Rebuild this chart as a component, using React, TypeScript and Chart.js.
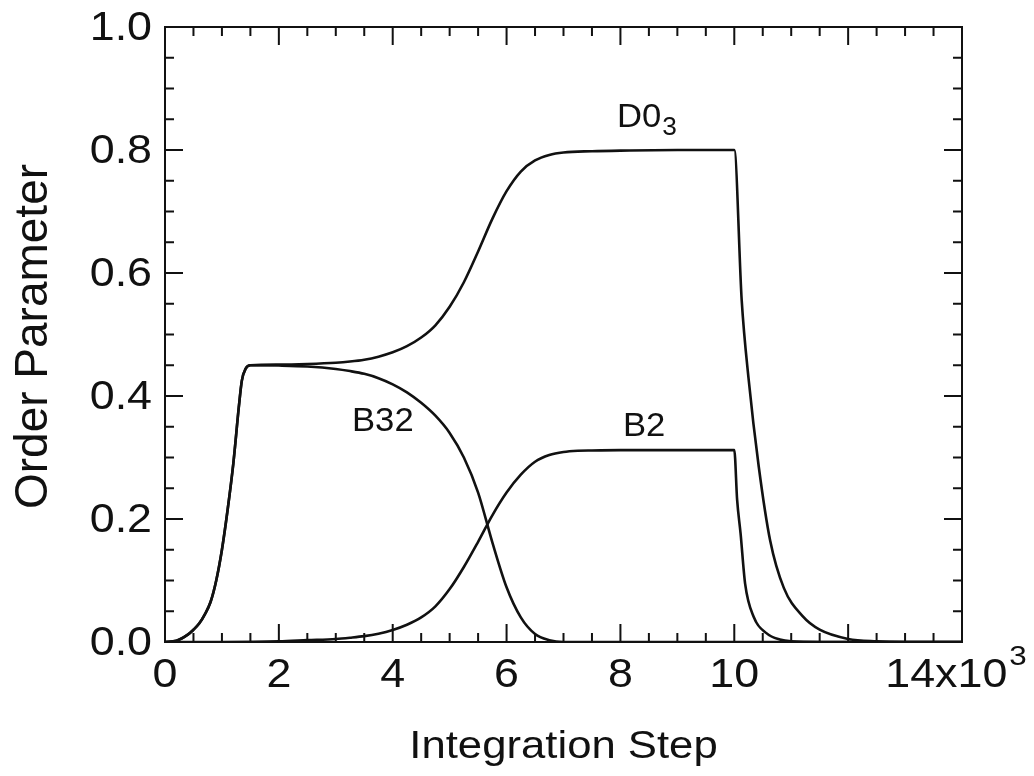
import React, { useEffect, useRef } from "react";
import { Chart, registerables } from "chart.js";

Chart.register(...registerables);

// Integration step (x10^3) and order parameter values for each ordered phase
const d03Steps = [0, 0.2, 0.4, 0.5, 0.6, 0.7, 0.8, 0.9, 1.0, 1.1, 1.2, 1.3, 1.35, 1.42, 1.5, 2.0, 2.5, 3.0, 3.25, 3.5, 3.75, 4.0, 4.25, 4.5, 4.75, 5.0, 5.25, 5.5, 5.75, 6.0, 6.25, 6.5, 6.75, 7.0, 7.5, 8.0, 9.0, 10.0, 10.13, 10.25, 10.43, 10.63, 10.87, 11.2, 11.5, 12.0, 12.5, 13.0, 14.0];
const d03Values = [0, 0.002, 0.012, 0.02, 0.03, 0.045, 0.065, 0.1, 0.15, 0.215, 0.29, 0.385, 0.425, 0.445, 0.45, 0.451, 0.452, 0.454, 0.456, 0.459, 0.464, 0.471, 0.481, 0.495, 0.515, 0.545, 0.585, 0.635, 0.688, 0.733, 0.765, 0.783, 0.792, 0.796, 0.798, 0.799, 0.8, 0.8, 0.556, 0.429, 0.285, 0.165, 0.088, 0.042, 0.02, 0.005, 0.001, 0, 0];

const b32Steps = [0, 0.2, 0.4, 0.5, 0.6, 0.7, 0.8, 0.9, 1.0, 1.1, 1.2, 1.3, 1.35, 1.42, 1.5, 2.0, 2.5, 3.0, 3.25, 3.5, 3.75, 4.0, 4.25, 4.5, 4.75, 5.0, 5.25, 5.5, 5.75, 6.0, 6.25, 6.5, 6.75, 7.0, 8.0, 14.0];
const b32Values = [0, 0.002, 0.012, 0.02, 0.03, 0.045, 0.065, 0.1, 0.15, 0.215, 0.29, 0.385, 0.425, 0.445, 0.45, 0.4495, 0.448, 0.444, 0.4405, 0.436, 0.429, 0.419, 0.406, 0.389, 0.368, 0.34, 0.3, 0.243, 0.162, 0.089, 0.04, 0.013, 0.003, 0, 0, 0];

const b2Steps = [0, 1.0, 2.0, 2.5, 3.0, 3.25, 3.5, 3.75, 4.0, 4.25, 4.5, 4.75, 5.0, 5.25, 5.5, 5.75, 6.0, 6.25, 6.5, 6.75, 7.0, 7.25, 7.5, 8.0, 9.0, 10.0, 10.05, 10.11, 10.19, 10.34, 10.57, 10.8, 11.0, 11.5, 14.0];
const b2Values = [0, 0, 0.001, 0.003, 0.005, 0.007, 0.0095, 0.0135, 0.0195, 0.028, 0.04, 0.058, 0.086, 0.122, 0.163, 0.206, 0.243, 0.272, 0.293, 0.304, 0.309, 0.311, 0.3115, 0.312, 0.312, 0.312, 0.231, 0.177, 0.095, 0.041, 0.014, 0.004, 0.001, 0, 0];

// Axis tick labels
const xTickValues = [0, 2, 4, 6, 8, 10, 14];
const xTickLabels = ["0", "2", "4", "6", "8", "10", "14x10"];
const yTickValues = [0, 0.2, 0.4, 0.6, 0.8, 1.0];
const yTickLabels = ["0.0", "0.2", "0.4", "0.6", "0.8", "1.0"];

const FONT = "'Liberation Sans', Arial, Helvetica, sans-serif";
const INK = "#111";

const toPoints = (xs: number[], ys: number[]) => xs.map((x, i) => ({ x, y: ys[i] }));

function drawStretched(
  ctx: CanvasRenderingContext2D,
  text: string,
  x: number,
  y: number,
  size: number,
  sx: number,
  align: "left" | "center" | "right"
) {
  ctx.font = `${size}px ${FONT}`;
  const w = ctx.measureText(text).width * sx;
  let left = x;
  if (align === "center") left = x - w / 2;
  if (align === "right") left = x - w;
  ctx.save();
  ctx.translate(left, y);
  ctx.scale(sx, 1);
  ctx.textAlign = "left";
  ctx.textBaseline = "alphabetic";
  ctx.fillText(text, 0, 0);
  ctx.restore();
  return w;
}

const framePlugin = {
  id: "frameAndLabels",
  afterDraw(chart: any) {
    const { ctx, chartArea } = chart;
    const xs = chart.scales.x;
    const ys = chart.scales.y;
    const { left, right, top, bottom } = chartArea;
    ctx.save();
    ctx.strokeStyle = INK;
    ctx.fillStyle = INK;

    // frame
    ctx.lineWidth = 2;
    ctx.strokeRect(left, top, right - left, bottom - top);

    // inward ticks on all four sides
    ctx.lineWidth = 2;
    ctx.beginPath();
    for (let i = 0; i <= 28; i++) {
      const v = i * 0.5;
      const px = xs.getPixelForValue(v);
      const len = i % 4 === 0 ? 18 : 9;
      ctx.moveTo(px, bottom);
      ctx.lineTo(px, bottom - len);
      ctx.moveTo(px, top);
      ctx.lineTo(px, top + len);
    }
    for (let i = 0; i <= 20; i++) {
      const v = i * 0.05;
      const py = ys.getPixelForValue(v);
      const len = i % 4 === 0 ? 18 : 9;
      ctx.moveTo(left, py);
      ctx.lineTo(left + len, py);
      ctx.moveTo(right, py);
      ctx.lineTo(right - len, py);
    }
    ctx.stroke();

    // y tick labels
    yTickValues.forEach((v, i) => {
      drawStretched(ctx, yTickLabels[i], left - 13, ys.getPixelForValue(v) + 13, 40, 1.12, "right");
    });

    // x tick labels
    xTickValues.forEach((v, i) => {
      const label = xTickLabels[i];
      const px = xs.getPixelForValue(v);
      if (label === "14x10") {
        ctx.font = `40px ${FONT}`;
        const wMain = ctx.measureText(label).width * 1.12;
        ctx.font = `28px ${FONT}`;
        const wSup = ctx.measureText("3").width * 1.12;
        const start = px - 6 - (wMain + 2 + wSup) / 2;
        drawStretched(ctx, label, start, bottom + 45, 40, 1.12, "left");
        drawStretched(ctx, "3", start + wMain + 2, bottom + 23, 28, 1.12, "left");
      } else {
        drawStretched(ctx, label, px, bottom + 45, 40, 1.12, "center");
      }
    });

    // axis titles
    drawStretched(ctx, "Integration Step", (left + right) / 2, bottom + 116, 39, 1.12, "center");
    ctx.save();
    ctx.translate(39, (top + bottom) / 2 + 2);
    ctx.rotate(-Math.PI / 2);
    ctx.font = `46px ${FONT}`;
    ctx.textAlign = "center";
    ctx.textBaseline = "alphabetic";
    ctx.fillText("Order Parameter", 0, 0);
    ctx.restore();

    // curve labels
    const dx = xs.getPixelForValue(7.94);
    const dy = ys.getPixelForValue(0.8374);
    const wD = drawStretched(ctx, "D0", dx, dy, 33, 1.05, "left");
    drawStretched(ctx, "3", dx + wD + 1, dy + 8, 25, 1.05, "left");
    drawStretched(ctx, "B32", xs.getPixelForValue(3.285), ys.getPixelForValue(0.343), 33, 1.05, "left");
    drawStretched(ctx, "B2", xs.getPixelForValue(8.045), ys.getPixelForValue(0.335), 33, 1.05, "left");

    ctx.restore();
  },
};

export default function App() {
  const canvasRef = useRef<HTMLCanvasElement | null>(null);

  useEffect(() => {
    const canvas = canvasRef.current;
    if (!canvas) return;
    const lineStyle = {
      borderColor: INK,
      borderWidth: 2.6,
      pointRadius: 0,
      showLine: true,
      fill: false,
      cubicInterpolationMode: "monotone" as const,
    };
    const chart = new Chart(canvas, {
      type: "scatter",
      data: {
        datasets: [
          { label: "D0_3", data: toPoints(d03Steps, d03Values), ...lineStyle },
          { label: "B32", data: toPoints(b32Steps, b32Values), ...lineStyle },
          { label: "B2", data: toPoints(b2Steps, b2Values), ...lineStyle },
        ],
      },
      options: {
        animation: false,
        responsive: false,
        devicePixelRatio: 1,
        layout: { padding: { left: 157, top: 19, right: 64, bottom: 126 } },
        plugins: { legend: { display: false }, tooltip: { enabled: false } },
        scales: {
          x: { type: "linear", min: 0, max: 14, display: false },
          y: { type: "linear", min: 0, max: 1, display: false },
        },
      },
      plugins: [framePlugin],
    });
    return () => chart.destroy();
  }, []);

  return (
    <canvas
      ref={canvasRef}
      width={1018}
      height={760}
      style={{ display: "block", width: 1018, height: 760, background: "#fff" }}
    />
  );
}
